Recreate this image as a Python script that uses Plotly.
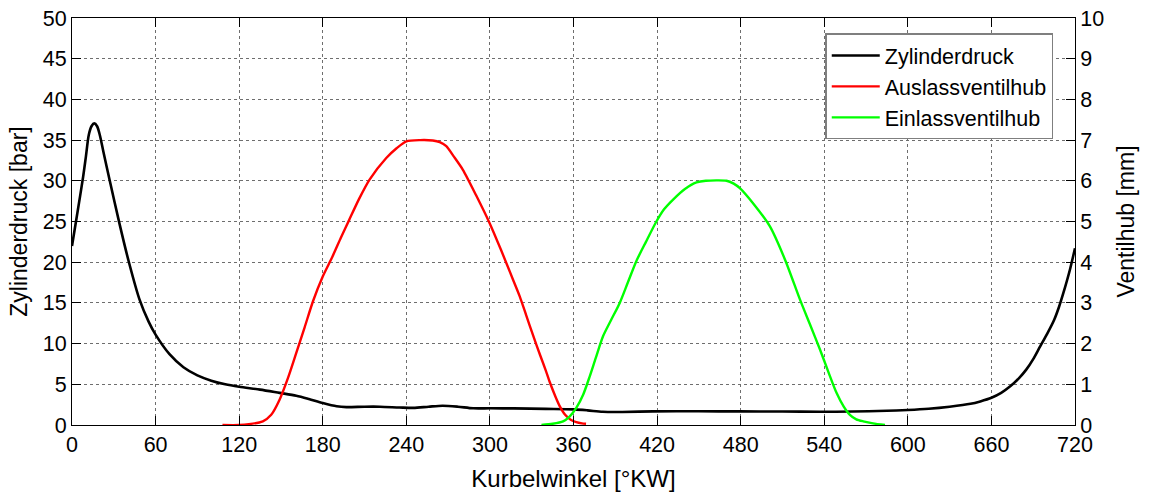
import plotly.graph_objects as go

# Zylinderdruck [bar] über Kurbelwinkel [°KW]
druck_kw = [0, 4, 8, 10, 12, 14, 16, 18, 20, 22.5, 27, 34, 41, 48.5, 55, 60, 70, 80,
            90, 100, 110, 120, 135, 149, 161, 170, 180, 190, 197, 210, 221, 235, 245,
            256, 266, 277, 288, 300, 317, 340, 360, 370, 381, 395, 417, 450, 479, 510,
            537, 560, 585, 600, 615, 630, 645, 652, 660, 667, 673.5, 680, 685, 690,
            695, 700, 705, 708.5, 711.6, 714, 716.4, 720]
druck_bar = [22.0, 26.2, 30.5, 33.0, 35.6, 36.7, 37.05, 36.7, 35.6, 33.6, 30.1, 24.8,
             19.9, 15.4, 12.7, 11.1, 8.7, 7.1, 6.1, 5.45, 5.0, 4.7, 4.35, 3.95, 3.6,
             3.2, 2.7, 2.3, 2.2, 2.25, 2.25, 2.15, 2.1, 2.25, 2.37, 2.25, 2.05, 2.05,
             2.04, 1.98, 1.92, 1.8, 1.62, 1.6, 1.67, 1.68, 1.67, 1.65, 1.63, 1.65,
             1.75, 1.85, 2.0, 2.25, 2.6, 2.9, 3.35, 3.95, 4.75, 5.8, 6.8, 8.1, 9.66,
             11.2, 12.9, 14.5, 16.2, 17.6, 19.1, 21.7]

# Auslassventilhub [mm]
ausl_kw = [108, 120, 137, 143, 149, 155, 161, 167, 173, 180, 187, 193, 199, 206,
           213.6, 225.6, 233, 240, 250, 259, 264, 268.7, 274, 280.6, 290, 299.8,
           308, 316.6, 321.4, 326, 331, 336, 340, 343, 347, 350, 354, 358, 362, 366, 369]
ausl_mm = [0.0, 0.0, 0.09, 0.25, 0.62, 1.15, 1.77, 2.4, 3.04, 3.65, 4.14, 4.6, 5.04,
           5.55, 6.03, 6.56, 6.8, 6.97, 7.0, 6.99, 6.95, 6.85, 6.6, 6.27, 5.65, 4.96,
           4.3, 3.57, 3.16, 2.7, 2.2, 1.72, 1.35, 1.05, 0.7, 0.47, 0.25, 0.13, 0.07,
           0.04, 0.03]

# Einlassventilhub [mm]
einl_kw = [337, 345, 352.5, 357, 362, 367, 371.6, 376, 381.2, 387, 393.2, 399, 405,
           412, 419.5, 425, 431.5, 440, 448.3, 455, 469.8, 475, 479.4, 490, 501, 512,
           522.6, 530, 537, 543, 548.8, 554, 558.4, 563, 568, 575, 583.6]
einl_mm = [0.0, 0.03, 0.09, 0.2, 0.42, 0.75, 1.19, 1.65, 2.18, 2.58, 3.0, 3.5, 4.02,
           4.5, 5.0, 5.3, 5.54, 5.8, 5.96, 6.0, 6.0, 5.93, 5.82, 5.4, 4.88, 4.05,
           3.08, 2.45, 1.85, 1.3, 0.79, 0.45, 0.25, 0.14, 0.09, 0.04, 0.0]

x_ticks = list(range(0, 721, 60))

FONT = "Liberation Sans, Arial, sans-serif"
TICK = 21.5

fig = go.Figure()
fig.add_trace(go.Scatter(x=druck_kw, y=druck_bar, name="Zylinderdruck", mode="lines",
                         line=dict(color="#000000", width=2.6, shape="spline", smoothing=0.8)))
fig.add_trace(go.Scatter(x=ausl_kw, y=ausl_mm, name="Auslassventilhub", mode="lines",
                         yaxis="y2",
                         line=dict(color="#FF0000", width=2.4, shape="spline", smoothing=0.7)))
fig.add_trace(go.Scatter(x=einl_kw, y=einl_mm, name="Einlassventilhub", mode="lines",
                         yaxis="y2",
                         line=dict(color="#00FF00", width=2.4, shape="spline", smoothing=0.7)))

grid = dict(showgrid=True, gridcolor="#6e6e6e", griddash="dot", gridwidth=1)

fig.update_layout(
    width=1153, height=495,
    margin=dict(l=72, r=78, t=18, b=70),
    paper_bgcolor="white", plot_bgcolor="white",
    font=dict(family=FONT, size=TICK, color="#000000"),
    showlegend=True,
    legend=dict(x=0.751, y=0.962, xanchor="left", yanchor="top",
                bgcolor="white", bordercolor="#7f7f7f", borderwidth=1.5,
                font=dict(family=FONT, size=21.5), tracegroupgap=0,
                itemwidth=48),
    xaxis=dict(range=[0, 720], tickvals=x_ticks, ticks="inside", ticklen=9,
               tickcolor="#000000", linecolor="#000000", linewidth=1, mirror="ticks",
               showline=True, zeroline=False, automargin=False,
               tickfont=dict(size=TICK),
               title=dict(text="Kurbelwinkel [°KW]", font=dict(size=24), standoff=14),
               **grid),
    yaxis=dict(range=[0, 50], dtick=5, ticks="inside", ticklen=9,
               tickcolor="#000000", linecolor="#000000", linewidth=1, mirror=True,
               showline=True, zeroline=False, automargin=False,
               tickfont=dict(size=TICK),
               title=dict(text="Zylinderdruck [bar]", font=dict(size=23), standoff=8),
               **grid),
    yaxis2=dict(range=[0, 10], dtick=1, overlaying="y", side="right",
                ticks="inside", ticklen=9, tickcolor="#000000",
                linecolor="#000000", linewidth=1, showline=True,
                showgrid=False, zeroline=False, automargin=False,
                tickfont=dict(size=TICK),
                title=dict(text="Ventilhub [mm]", font=dict(size=23), standoff=14)),
)

fig.write_html("out.html")
